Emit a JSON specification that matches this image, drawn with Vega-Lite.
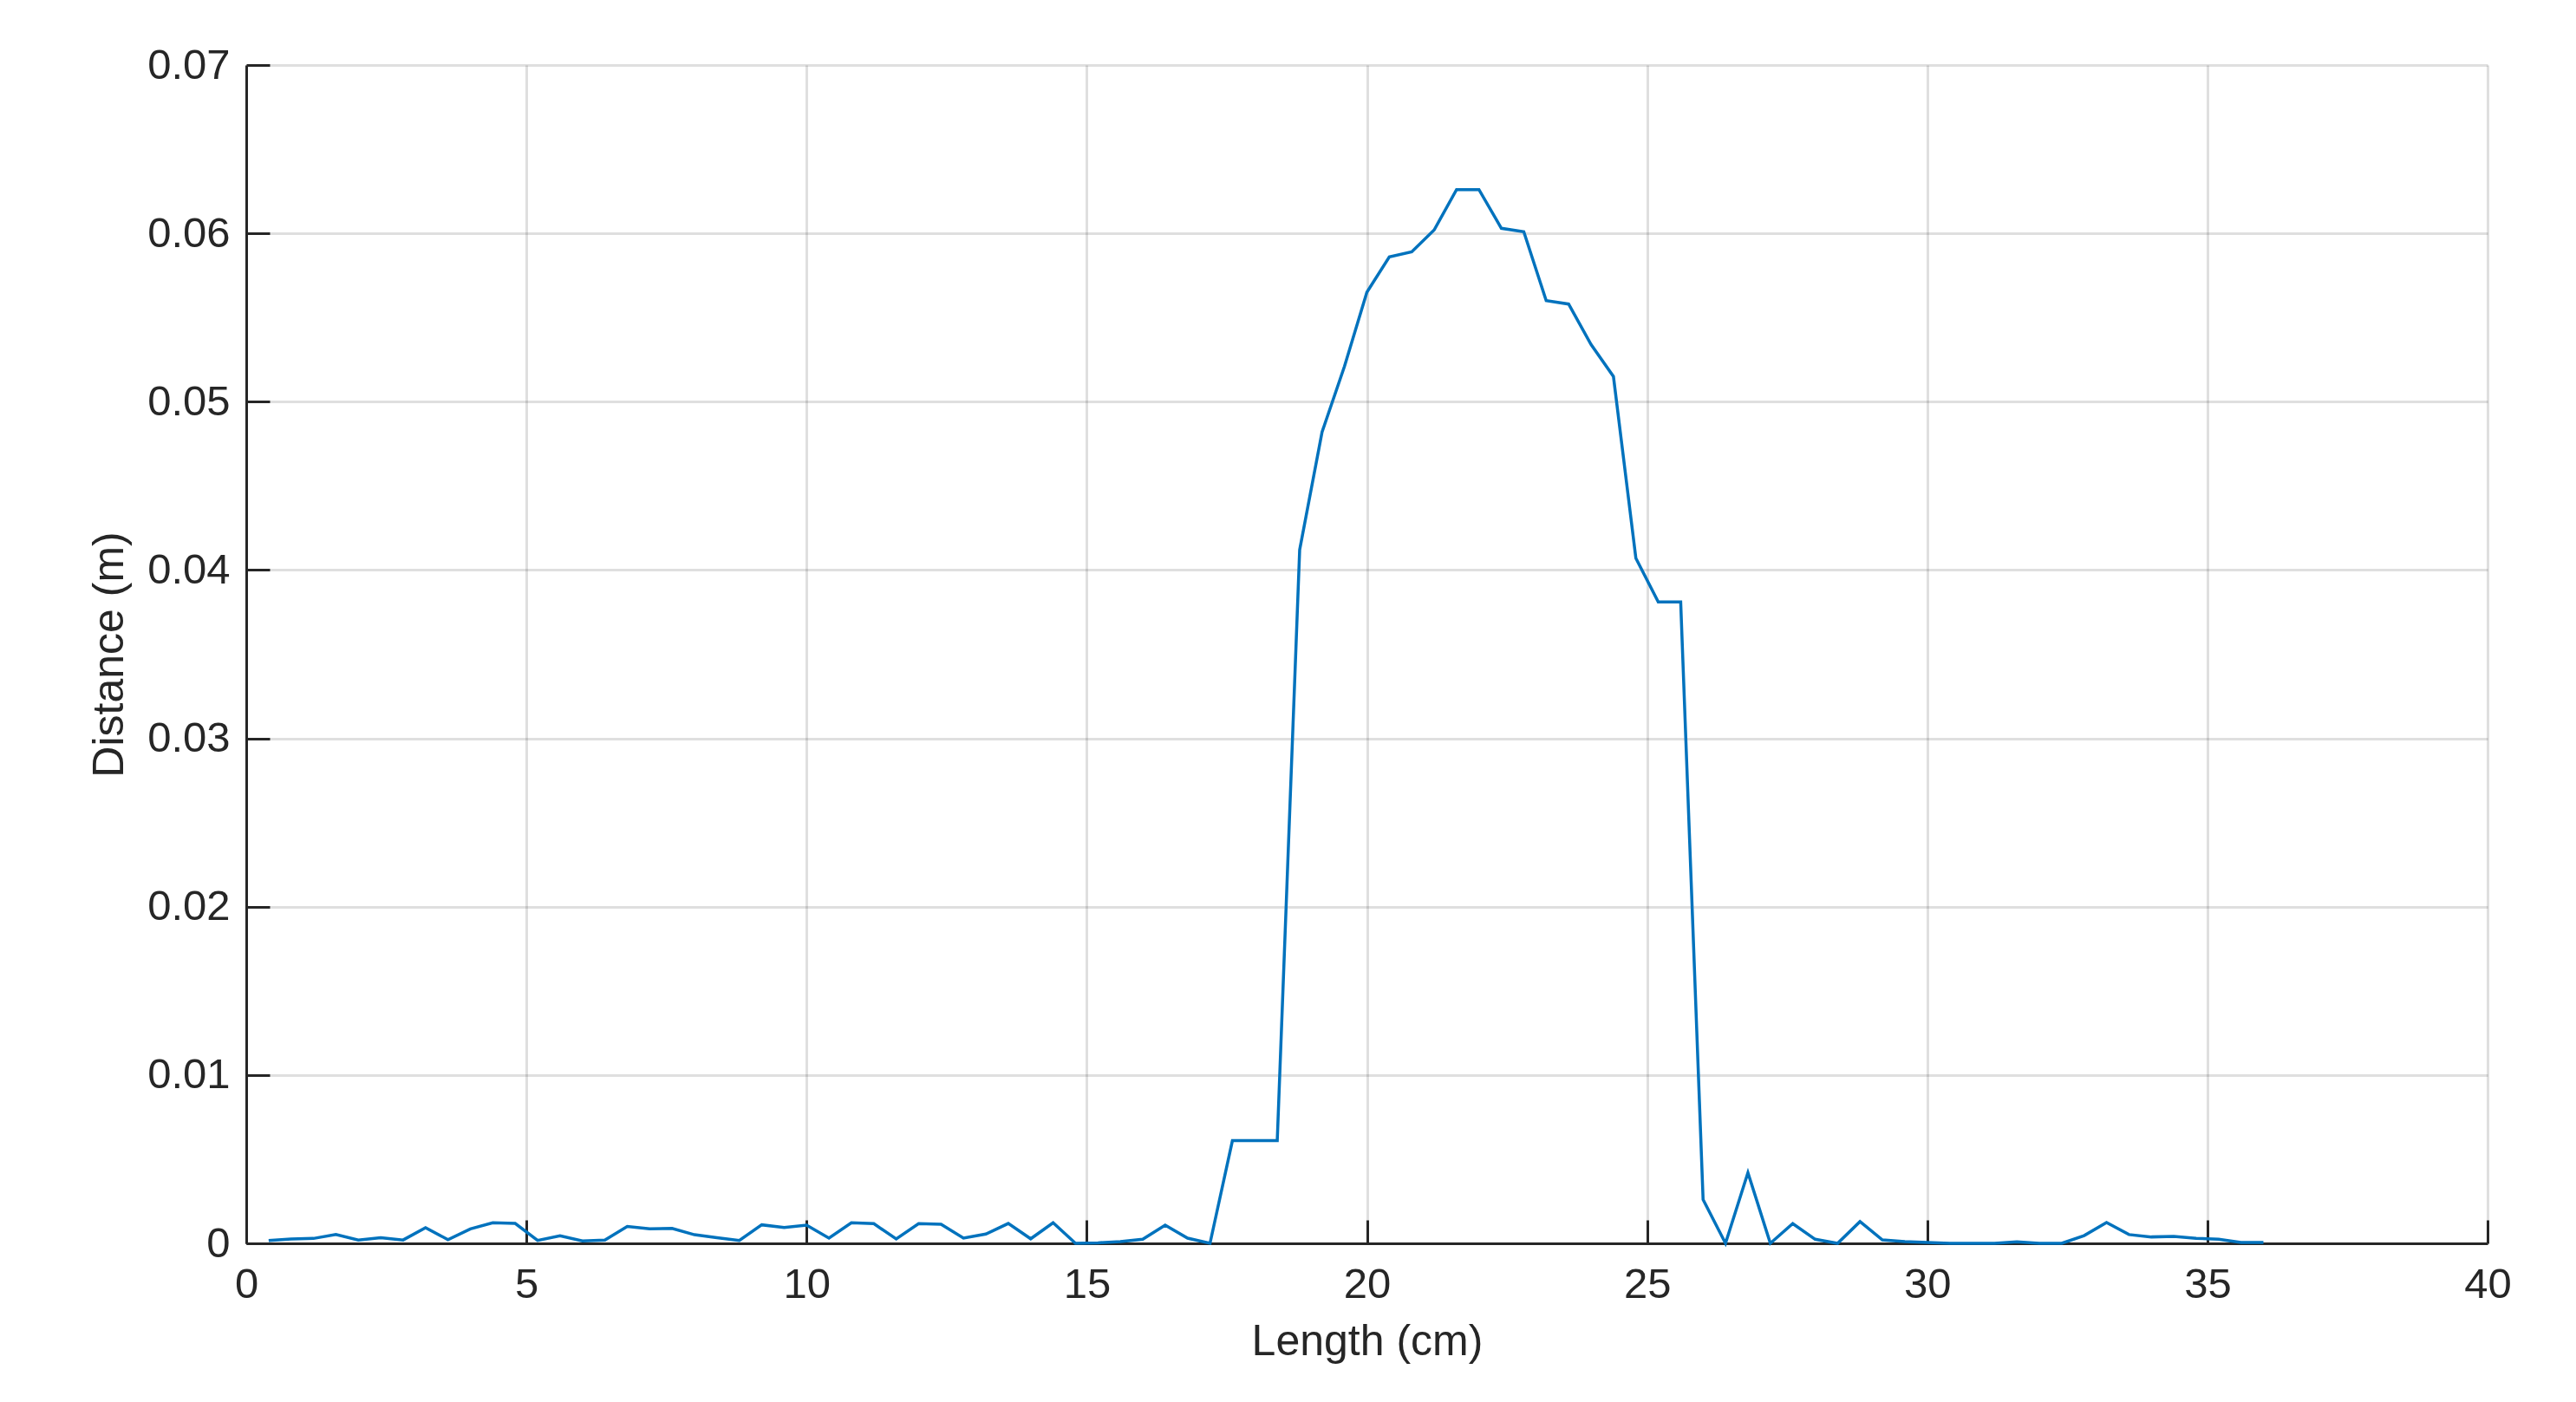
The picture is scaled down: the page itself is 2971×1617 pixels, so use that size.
{
  "$schema": "https://vega.github.io/schema/vega-lite/v6.json",
  "autosize": {"type": "none"},
  "width": 2585,
  "height": 1359,
  "padding": {"left": 284, "top": 75, "right": 102, "bottom": 183},
  "background": "white",
  "data": {"values": [
    {"x": 0.4, "y": 0.00017}, {"x": 0.8, "y": 0.00026}, {"x": 1.2, "y": 0.00029}, {"x": 1.6, "y": 0.00053},
    {"x": 2.0, "y": 0.0002}, {"x": 2.4, "y": 0.00034}, {"x": 2.8, "y": 0.0002}, {"x": 3.2, "y": 0.00093},
    {"x": 3.6, "y": 0.00022}, {"x": 4.0, "y": 0.00086}, {"x": 4.4, "y": 0.00122}, {"x": 4.8, "y": 0.00118},
    {"x": 5.2, "y": 0.00017}, {"x": 5.6, "y": 0.00045}, {"x": 6.0, "y": 0.00014}, {"x": 6.4, "y": 0.00019},
    {"x": 6.8, "y": 0.001}, {"x": 7.2, "y": 0.00086}, {"x": 7.6, "y": 0.00089}, {"x": 8.0, "y": 0.00051},
    {"x": 8.4, "y": 0.00034}, {"x": 8.8, "y": 0.00017}, {"x": 9.2, "y": 0.0011}, {"x": 9.6, "y": 0.00094},
    {"x": 10.0, "y": 0.00108}, {"x": 10.4, "y": 0.00031}, {"x": 10.8, "y": 0.00122}, {"x": 11.2, "y": 0.00117},
    {"x": 11.6, "y": 0.00026}, {"x": 12.0, "y": 0.00117}, {"x": 12.4, "y": 0.00113}, {"x": 12.8, "y": 0.00031},
    {"x": 13.2, "y": 0.00055}, {"x": 13.6, "y": 0.00118}, {"x": 14.0, "y": 0.00027}, {"x": 14.4, "y": 0.00122},
    {"x": 14.8, "y": 0}, {"x": 15.2, "y": 0.00003}, {"x": 15.6, "y": 0.0001}, {"x": 16.0, "y": 0.00024},
    {"x": 16.4, "y": 0.00108}, {"x": 16.8, "y": 0.00031}, {"x": 17.2, "y": 0}, {"x": 17.6, "y": 0.0061},
    {"x": 18.0, "y": 0.0061}, {"x": 18.4, "y": 0.0061}, {"x": 18.8, "y": 0.0412}, {"x": 19.2, "y": 0.0482},
    {"x": 19.6, "y": 0.0521}, {"x": 20.0, "y": 0.0565}, {"x": 20.4, "y": 0.0586}, {"x": 20.8, "y": 0.0589},
    {"x": 21.2, "y": 0.0602}, {"x": 21.6, "y": 0.0626}, {"x": 22.0, "y": 0.0626}, {"x": 22.4, "y": 0.0603},
    {"x": 22.8, "y": 0.0601}, {"x": 23.2, "y": 0.056}, {"x": 23.6, "y": 0.0558}, {"x": 24.0, "y": 0.0534},
    {"x": 24.4, "y": 0.0515}, {"x": 24.8, "y": 0.0407}, {"x": 25.2, "y": 0.0381}, {"x": 25.6, "y": 0.0381},
    {"x": 26.0, "y": 0.0026}, {"x": 26.4, "y": 0}, {"x": 26.8, "y": 0.0042}, {"x": 27.2, "y": 0},
    {"x": 27.6, "y": 0.00117}, {"x": 28.0, "y": 0.00024}, {"x": 28.4, "y": 0}, {"x": 28.8, "y": 0.00129},
    {"x": 29.2, "y": 0.0002}, {"x": 29.6, "y": 0.0001}, {"x": 30.0, "y": 0.00005}, {"x": 30.4, "y": 0},
    {"x": 30.8, "y": 0}, {"x": 31.2, "y": 0}, {"x": 31.6, "y": 0.00009}, {"x": 32.0, "y": 0},
    {"x": 32.4, "y": 0}, {"x": 32.8, "y": 0.00046}, {"x": 33.2, "y": 0.00124}, {"x": 33.6, "y": 0.00052},
    {"x": 34.0, "y": 0.00038}, {"x": 34.4, "y": 0.00041}, {"x": 34.8, "y": 0.0003}, {"x": 35.2, "y": 0.00024},
    {"x": 35.6, "y": 0.00005}, {"x": 36.0, "y": 0.00005}
  ]},
  "mark": {"type": "line", "color": "#0072BD", "strokeWidth": 3.5, "clip": false},
  "encoding": {
    "x": {
      "field": "x", "type": "quantitative",
      "scale": {"domain": [0, 40], "nice": false, "zero": false},
      "axis": {"title": "Length (cm)", "values": [0, 5, 10, 15, 20, 25, 30, 35, 40], "format": "d", "labelPadding": 50, "labelFlush": false, "titlePadding": 16}
    },
    "y": {
      "field": "y", "type": "quantitative",
      "scale": {"domain": [0, 0.07], "nice": false},
      "axis": {"title": "Distance (m)", "values": [0, 0.01, 0.02, 0.03, 0.04, 0.05, 0.06, 0.07],
               "labelExpr": "datum.value == 0 ? '0' : format(datum.value, '.2f')", "labelPadding": 46, "labelFlush": false, "titlePadding": 18}
    }
  },
  "config": {
    "view": {"stroke": null},
    "axis": {
      "domainColor": "#262626", "domainWidth": 3,
      "tickColor": "#262626", "tickWidth": 3, "tickSize": -27,
      "labelFont": "Liberation Sans", "labelFontSize": 49, "labelColor": "#262626",
      "titleFont": "Liberation Sans", "titleFontSize": 50, "titleFontWeight": "normal", "titleColor": "#262626",
      "gridColor": "#262626", "gridOpacity": 0.15, "gridWidth": 3
    }
  }
}
